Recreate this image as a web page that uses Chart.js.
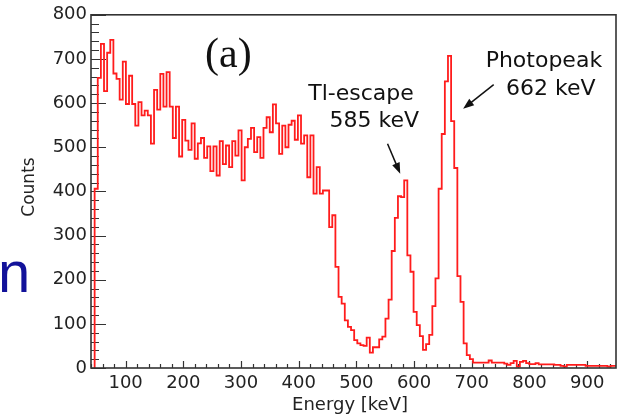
<!DOCTYPE html>
<html>
<head>
<meta charset="utf-8">
<script src="https://cdn.jsdelivr.net/npm/chart.js@4.4.1/dist/chart.umd.min.js"></script>
<style>
  body { margin: 0; background: #fff; }
  #wrap { width: 624px; height: 418px; }
</style>
</head>
<body>
<div id="wrap"><canvas id="spectrum" width="624" height="418"></canvas></div>
<script>
// histogram binning (keV)
const BIN_START = 46.3;
const BIN_WIDTH = 5.42;

// counts per bin
const counts = [
  406, 657, 734, 627, 714, 743, 667, 655, 608, 694,
  598, 662, 598, 549, 602, 572, 583, 572, 508, 630,
  585, 666, 592, 670, 592, 521, 592, 479, 562, 515,
  494, 554, 474, 509, 521, 476, 502, 446, 502, 436,
  514, 462, 504, 455, 514, 481, 538, 425, 500, 519,
  544, 489, 523, 476, 544, 568, 534, 597, 554, 485,
  549, 500, 551, 560, 517, 572, 508, 527, 432, 527,
  395, 455,
  395, 402, 402, 319, 346, 229, 161, 146, 108, 93,
  86, 63, 56, 52, 50, 69, 35, 47, 47, 65,
  71, 112, 155, 265, 340, 389, 387, 425,
  255, 218, 127, 97, 72, 41, 54, 75, 140, 203,
  406, 530, 649, 707, 559, 453, 208, 150, 56, 29, 20,
  12, 12, 12, 12, 12, 17, 12, 12, 12, 12,
  10, 7, 11, 16, 3, 14, 16, 11, 9, 9,
  11, 8, 8, 8, 8, 8, 7, 7, 5, 3,
  7, 7, 7, 7, 7, 7, 5, 5, 5, 5,
  5, 5, 5, 3, 5, 5
];

const xTicks = [100, 200, 300, 400, 500, 600, 700, 800, 900];
const yTicks = [0, 100, 200, 300, 400, 500, 600, 700, 800];

// text labels and arrows, in data units (keV, counts)
const labels = [
  { text: "(a)", x: 278, y: 681, font: '42px "Liberation Serif"' },
  { text: "Tl-escape", x: 508, y: 606, font: '22px "DejaVu Sans"' },
  { text: "585 keV", x: 531, y: 546, font: '22px "DejaVu Sans"' },
  { text: "Photopeak", x: 825, y: 682, font: '22px "DejaVu Sans"' },
  { text: "662 keV", x: 837, y: 619, font: '22px "DejaVu Sans"' }
];
const arrows = [
  { x0: 554, y0: 508, x1: 576, y1: 440 },
  { x0: 738, y0: 642, x1: 685, y1: 587 }
];

// bin edges -> points for a stepped outline
let points = [{ x: BIN_START, y: 0 }];
counts.forEach((c, i) => {
  points.push({ x: BIN_START + i * BIN_WIDTH, y: c });
});
points.push({ x: BIN_START + counts.length * BIN_WIDTH, y: counts[counts.length - 1] });

const framePlugin = {
  id: "frame",
  beforeDatasetsDraw(chart) {
    const { ctx, chartArea: a, scales } = chart;
    const x = scales.x, y = scales.y;
    ctx.save();
    ctx.strokeStyle = "#333";
    ctx.lineWidth = 1.2;
    ctx.beginPath();
    for (let v = 0; v <= 800; v += 20) {
      const py = Math.round(y.getPixelForValue(v)) + 0.5;
      const len = v % 100 === 0 ? 15 : 8;
      ctx.moveTo(a.left, py);
      ctx.lineTo(a.left + len, py);
    }
    for (let v = 40; v <= 950; v += 20) {
      const px = Math.round(x.getPixelForValue(v)) + 0.5;
      const len = v % 100 === 0 ? 7 : 4;
      ctx.moveTo(px, a.bottom);
      ctx.lineTo(px, a.bottom - len);
    }
    ctx.stroke();
    ctx.restore();
  },
  afterDraw(chart) {
    const { ctx, chartArea: a, scales } = chart;
    const x = scales.x, y = scales.y;
    ctx.save();
    ctx.strokeStyle = "#333";
    ctx.lineWidth = 1.6;
    ctx.strokeRect(a.left, a.top, a.right - a.left, a.bottom - a.top);

    // axis titles
    ctx.fillStyle = "#222";
    ctx.font = '18px "DejaVu Sans"';
    ctx.textAlign = "center";
    ctx.textBaseline = "middle";
    ctx.fillText("Energy [keV]", 350, 405);
    ctx.save();
    ctx.translate(30, 187);
    ctx.rotate(-Math.PI / 2);
    ctx.font = '17px "DejaVu Sans"';
    ctx.fillText("Counts", 0, 0);
    ctx.restore();

    // annotations
    ctx.fillStyle = "#111";
    ctx.textBaseline = "alphabetic";
    labels.forEach((l) => {
      ctx.font = l.font;
      ctx.fillText(l.text, x.getPixelForValue(l.x), y.getPixelForValue(l.y));
    });
    ctx.strokeStyle = "#111";
    ctx.lineWidth = 1.5;
    arrows.forEach((ar) => {
      const sx = x.getPixelForValue(ar.x0), sy = y.getPixelForValue(ar.y0);
      const ex = x.getPixelForValue(ar.x1), ey = y.getPixelForValue(ar.y1);
      const ang = Math.atan2(ey - sy, ex - sx);
      ctx.beginPath();
      ctx.moveTo(sx, sy);
      ctx.lineTo(ex - 8 * Math.cos(ang), ey - 8 * Math.sin(ang));
      ctx.stroke();
      ctx.beginPath();
      ctx.moveTo(ex, ey);
      ctx.lineTo(ex - 11 * Math.cos(ang) + 4 * Math.sin(ang), ey - 11 * Math.sin(ang) - 4 * Math.cos(ang));
      ctx.lineTo(ex - 11 * Math.cos(ang) - 4 * Math.sin(ang), ey - 11 * Math.sin(ang) + 4 * Math.cos(ang));
      ctx.closePath();
      ctx.fillStyle = "#111";
      ctx.fill();
    });

    // stray letter from the neighbouring slide
    ctx.fillStyle = "#12129a";
    ctx.font = '58px "Liberation Sans"';
    ctx.textAlign = "left";
    ctx.fillText("n", -2, 292);
    ctx.restore();
  }
};

const ctx = document.getElementById("spectrum").getContext("2d");
const spectrumChart = new Chart(ctx, {
  type: "line",
  data: {
    datasets: [
      {
        data: points,
        borderColor: "#ff1c1c",
        borderWidth: 1.8,
        pointRadius: 0,
        stepped: true,
        fill: false
      }
    ]
  },
  options: {
    responsive: false,
    animation: false,
    devicePixelRatio: 1,
    layout: {
      padding: { top: 14, right: 8, left: 0, bottom: 0 }
    },
    plugins: {
      legend: { display: false },
      tooltip: { enabled: false }
    },
    scales: {
      x: {
        type: "linear",
        min: 40,
        max: 950,
        afterBuildTicks: (scale) => {
          scale.ticks = xTicks.map((v) => ({ value: v }));
        },
        afterFit: (scale) => {
          scale.height = 50;
        },
        grid: { display: false, drawTicks: false },
        border: { display: false },
        ticks: {
          color: "#222",
          padding: 5,
          maxRotation: 0,
          font: { family: "DejaVu Sans", size: 18 }
        }
      },
      y: {
        min: 0,
        max: 800,
        afterBuildTicks: (scale) => {
          scale.ticks = yTicks.map((v) => ({ value: v }));
        },
        afterFit: (scale) => {
          scale.width = 91;
        },
        grid: { display: false, drawTicks: false },
        border: { display: false },
        ticks: {
          color: "#222",
          padding: 4,
          font: { family: "DejaVu Sans", size: 18 }
        }
      }
    }
  },
  plugins: [framePlugin]
});
</script>
</body>
</html>
